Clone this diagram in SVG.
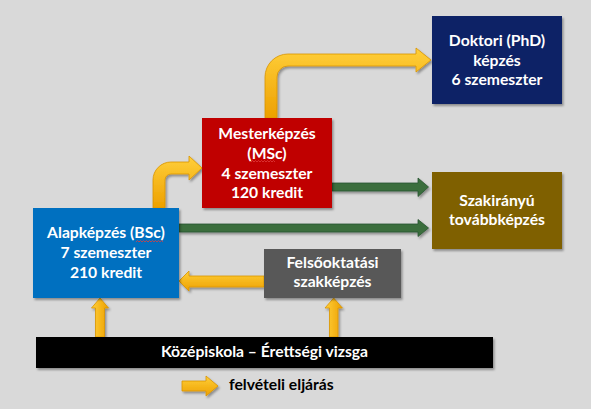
<svg xmlns="http://www.w3.org/2000/svg" width="591" height="409" viewBox="0 0 591 409">
<defs>
<filter id="sh" x="-10%" y="-10%" width="130%" height="140%">
<feDropShadow dx="1.5" dy="2" stdDeviation="1.2" flood-color="#000" flood-opacity="0.35"/>
</filter>
<linearGradient id="yh" x1="0" y1="0" x2="0" y2="1">
<stop offset="0" stop-color="#ffcf3a"/>
<stop offset="1" stop-color="#eda000"/>
</linearGradient>
<linearGradient id="yv" x1="0" y1="0" x2="1" y2="0">
<stop offset="0" stop-color="#ffcf3a"/>
<stop offset="1" stop-color="#eda000"/>
</linearGradient>
</defs>
<style>
.t{font-family:Lato,"Liberation Sans",sans-serif;font-weight:bold;font-size:15.7px;fill:#fff;text-anchor:middle}
.lg{font-family:Lato,"Liberation Sans",sans-serif;font-weight:bold;font-size:15.7px;fill:#000}
.box{filter:url(#sh)}
.ya{stroke:#d99400;stroke-width:0.8;filter:url(#sh)}
.ga{fill:#3a6e3e;stroke:#2a5430;stroke-width:0.8;filter:url(#sh)}
.sq{fill:none;stroke:#e03c3c;stroke-width:0.8}
</style>
<rect width="591" height="409" fill="#d9d9d9"/>

<g id="connectors">
<path class="ya" fill="url(#yh)" d="M153,208 V180 A18,18 0 0 1 171,162 H189 V156 L202,168 L189,180 V174 H171 A6,6 0 0 0 165,180 V208 Z"/>
<path class="ya" fill="url(#yh)" d="M265,118 V77 A23,23 0 0 1 288,54 H416 V48 L431,60 L416,72 V66 H288 A11,11 0 0 0 277,77 V118 Z"/>
<path class="ya" fill="url(#yh)" d="M264,276 H189 V271 L179,281 L189,291 V287 H264 Z"/>
<path class="ya" fill="url(#yv)" d="M95.5,337 V308 H91.5 L100,298 L108.5,308 H104.5 V337 Z"/>
<path class="ya" fill="url(#yv)" d="M329.5,337 V308 H325 L333.7,298 L342.4,308 H338 V337 Z"/>
<path class="ga" d="M332,183 H418 V178 L428.5,187 L418,196.5 V191 H332 Z"/>
<path class="ga" d="M179,224 H418 V219.5 L428.5,228 L418,236.5 V232 H179 Z"/>
</g>

<g id="doktori">
<rect class="box" x="432" y="16" width="130" height="88" fill="#0c2166"/>
<text class="t" x="497" y="46">Doktori (PhD)</text>
<text class="t" x="497" y="65.5">képzés</text>
<text class="t" x="497" y="85">6 szemeszter</text>
</g>

<g id="mester">
<rect class="box" x="202" y="118" width="130" height="90" fill="#c00000"/>
<text class="t" x="267" y="138.5">Mesterképzés</text>
<text class="t" x="267" y="159">(MSc)</text>
<path class="sq" d="M251,162 l1.5,-1.5 l1.5,1.5 l1.5,-1.5 l1.5,1.5 l1.5,-1.5 l1.5,1.5 l1.5,-1.5 l1.5,1.5 l1.5,-1.5 l1.5,1.5 l1.5,-1.5 l1.5,1.5 l1.5,-1.5 l1.5,1.5 l1.5,-1.5 l1.5,1.5"/>
<text class="t" x="267" y="178.5">4 szemeszter</text>
<text class="t" x="267" y="198">120 kredit</text>
</g>

<g id="szakiranyu">
<rect class="box" x="432" y="172" width="130" height="77" fill="#7f6000"/>
<text class="t" x="497" y="205.5">Szakirányú</text>
<text class="t" x="497" y="224.5">továbbképzés</text>
</g>

<g id="alap">
<rect class="box" x="33" y="208" width="146" height="90" fill="#0070c0"/>
<text class="t" x="106" y="238">Alapképzés (BSc)</text>
<path class="sq" d="M136,242 l1.5,-1.5 l1.5,1.5 l1.5,-1.5 l1.5,1.5 l1.5,-1.5 l1.5,1.5 l1.5,-1.5 l1.5,1.5 l1.5,-1.5 l1.5,1.5 l1.5,-1.5 l1.5,1.5 l1.5,-1.5 l1.5,1.5 l1.5,-1.5 l1.5,1.5 l1.5,-1.5 l1.5,1.5"/>
<text class="t" x="106" y="258">7 szemeszter</text>
<text class="t" x="106" y="277.5">210 kredit</text>
</g>

<g id="felsooktatasi">
<rect class="box" x="264" y="249" width="137" height="49" fill="#595959"/>
<text class="t" x="332.5" y="268.3">Felsőoktatási</text>
<text class="t" x="332.5" y="287.3">szakképzés</text>
</g>

<g id="kozepiskola">
<rect class="box" x="36" y="337" width="457" height="31" fill="#000"/>
<text class="t" x="264.5" y="357">Középiskola – Érettségi vizsga</text>
</g>

<g id="legend">
<path class="ya" fill="url(#yh)" d="M182,381 H206 V376 L218,386 L206,396 V391 H182 Z"/>
<text class="lg" x="229" y="390">felvételi eljárás</text>
</g>
</svg>
